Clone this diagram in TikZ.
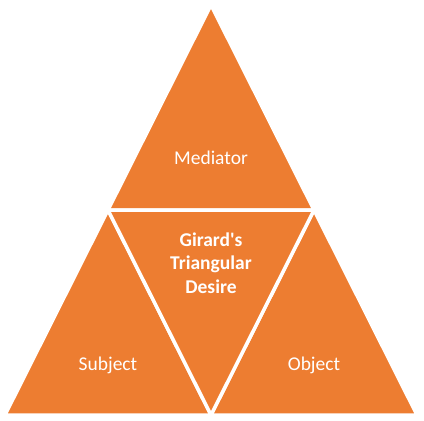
\documentclass[tikz,border=0pt]{standalone}
\usepackage{fontspec}
\setmainfont{Carlito}
\definecolor{tri}{HTML}{ED7D31}
\begin{document}
\begin{tikzpicture}[x=1pt,y=-1pt,
  tribox/.style={fill=tri,draw=white,line width=3.5pt,line join=miter},
  lbl/.style={text=white,font=\fontsize{19.5}{23.5}\selectfont,align=center}]
\useasboundingbox (0,0) rectangle (424,421);
\coordinate (A) at (211,5);
\coordinate (L) at (5,415);
\coordinate (R) at (417,415);
\coordinate (ML) at (108,210);
\coordinate (MR) at (314,210);
\coordinate (MB) at (211,415);
\draw[tribox] (A) -- (ML) -- (MR) -- cycle;
\draw[tribox] (ML) -- (L) -- (MB) -- cycle;
\draw[tribox] (MR) -- (MB) -- (R) -- cycle;
\draw[tribox] (ML) -- (MR) -- (MB) -- cycle;
\node[lbl] (med) at (211,158) {Mediator};
\node[lbl] (sub) at (108,365) {Subject};
\node[lbl] (obj) at (314,365) {Object};
\node[lbl,font=\fontsize{19.5}{23.5}\selectfont\bfseries] (des) at (211,263) {Girard\textquotesingle s\\Triangular\\Desire};
\end{tikzpicture}
\end{document}
